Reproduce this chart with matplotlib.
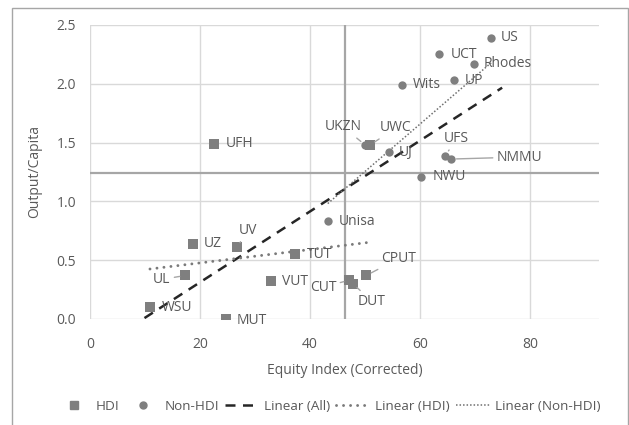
import numpy as np
import matplotlib
matplotlib.use("Agg")
import matplotlib.pyplot as plt
from matplotlib.lines import Line2D
from matplotlib.patches import Rectangle

plt.rcParams["font.family"] = ["Open Sans", "DejaVu Sans"]

# -------------------------------------------------------
# Data
# -------------------------------------------------------
hdi_names = ["UFH", "UZ", "UV", "UL", "WSU", "MUT", "VUT", "TUT", "CUT", "DUT", "CPUT", "UWC"]
hdi_x = [22.5, 18.7, 26.7, 17.3, 10.9, 24.7, 32.9, 37.3, 47.1, 47.8, 50.2, 50.9]
hdi_y = [1.49, 0.64, 0.61, 0.37, 0.10, 0.00, 0.32, 0.55, 0.33, 0.30, 0.37, 1.48]

non_names = ["US", "UCT", "Rhodes", "UP", "Wits", "UJ", "UFS", "NMMU", "NWU", "Unisa", "UKZN"]
non_x = [72.9, 63.5, 69.7, 66.1, 56.7, 54.4, 64.6, 65.6, 60.1, 43.2, 50.0]
non_y = [2.39, 2.25, 2.17, 2.03, 1.99, 1.42, 1.39, 1.36, 1.21, 0.83, 1.48]

# reference lines (median-type split)
x_ref = 46.4
y_ref = 1.245

# label offsets in pixels: (dx, dy, ha, leader)
label_style = {
    "US": (10, 0, "left", False), "UCT": (11, 0, "left", False),
    "Rhodes": (10, 0, "left", False), "UP": (11, 0, "left", False),
    "Wits": (11, 0, "left", False), "UJ": (9, 0, "left", False),
    "UFS": (11, 17, "center", True), "NMMU": (46, 2, "left", True),
    "NWU": (12, 0, "left", False), "Unisa": (11, 0, "left", False),
    "UKZN": (-22, 18, "center", True), "UWC": (10, 17, "left", True),
    "UFH": (12, 0, "left", False), "UZ": (11, 0, "left", False),
    "UV": (11, 17, "center", True), "UL": (-15, -4, "right", True),
    "WSU": (12, 0, "left", False), "MUT": (11, -1, "left", False),
    "VUT": (11, 0, "left", False), "TUT": (12, 0, "left", False),
    "CUT": (-13, -7, "right", True), "DUT": (19, -18, "center", True),
    "CPUT": (15, 17, "left", True),
}

text_col = "#595959"
mark_col = "#7f7f7f"

all_style = dict(color="#262626", linestyle=(0, (4, 3)), linewidth=1.8)
hdi_style = dict(color="#7a7a7a", linestyle=(0, (0.01, 2.4)), linewidth=2.1, dash_capstyle="round")
non_style = dict(color="#6f6f6f", linestyle=(0, (1, 1.3)), linewidth=1.1)

fig = plt.figure(figsize=(6.29, 4.25), dpi=100)
ax = fig.add_axes([90 / 629, 1 - 319 / 425, 509 / 629, 294 / 425])

# outer chart border
fig.patches.append(Rectangle((12 / 629, -0.05), 616 / 629, 1.05 - 8 / 425,
                             transform=fig.transFigure, fill=False,
                             edgecolor="#a6a6a6", linewidth=1))

ax.set_xlim(0, 92.5)
ax.set_ylim(0, 2.5)
ax.set_xticks([0, 20, 40, 60, 80])
ax.set_yticks([0, 0.5, 1.0, 1.5, 2.0, 2.5])
ax.set_yticklabels(["0.0", "0.5", "1.0", "1.5", "2.0", "2.5"])
ax.grid(True, color="#d9d9d9", linewidth=1)
ax.set_axisbelow(True)
for s in ax.spines.values():
    s.set_visible(False)
ax.tick_params(length=0, labelsize=10, labelcolor=text_col)
ax.tick_params(axis="x", pad=13)
ax.tick_params(axis="y", pad=10)

ax.axvline(x_ref, color="#a6a6a6", linewidth=1.6, zorder=1)
ax.axhline(y_ref, color="#a6a6a6", linewidth=1.6, zorder=1)

# trend lines (the overall one is extended a little, like the Excel forecast)
all_x = np.array(hdi_x + non_x)
all_y = np.array(hdi_y + non_y)
fits = [
    (all_x, all_y, 1.0, 2.0, all_style),
    (np.array(hdi_x), np.array(hdi_y), 0, 0, hdi_style),
    (np.array(non_x), np.array(non_y), 0, 0, non_style),
]
for fx, fy, back, fwd, style in fits:
    m, b = np.polyfit(fx, fy, 1)
    xs = np.array([fx.min() - back, fx.max() + fwd])
    ax.plot(xs, m * xs + b, zorder=2, **style)

ax.scatter(hdi_x, hdi_y, marker="s", s=48, color=mark_col, zorder=3, linewidths=0)
ax.scatter(non_x, non_y, marker="o", s=36, color=mark_col, zorder=3, linewidths=0)

for names, xs, ys in [(hdi_names, hdi_x, hdi_y), (non_names, non_x, non_y)]:
    for n, x, y in zip(names, xs, ys):
        dx, dy, ha, leader = label_style[n]
        kw = {}
        if leader:
            kw["arrowprops"] = dict(arrowstyle="-", color="#a6a6a6", lw=1,
                                    shrinkA=1, shrinkB=4)
        ax.annotate(n, (x, y), xytext=(dx, dy), textcoords="offset pixels",
                    ha=ha, va="center", fontsize=10, color=text_col, zorder=4, **kw)

ax.set_xlabel("Equity Index (Corrected)", fontsize=10, color=text_col, labelpad=8)
ax.set_ylabel("Output/Capita", fontsize=10, color=text_col, labelpad=10)

handles = [
    Line2D([], [], marker="s", linestyle="none", color=mark_col, markersize=6),
    Line2D([], [], marker="o", linestyle="none", color=mark_col, markersize=5),
    Line2D([], [], **all_style),
    Line2D([], [], **hdi_style),
    Line2D([], [], **non_style),
]
labels = ["HDI", "Non-HDI", "Linear (All)", "Linear (HDI)", "Linear (Non-HDI)"]
fig.legend(handles, labels, loc="center", bbox_to_anchor=(0.522, 1 - 406 / 425),
           ncol=5, frameon=False, fontsize=9.7, labelcolor=text_col,
           handlelength=2.6, columnspacing=0.45, handletextpad=0.3)

fig.savefig("out.png", dpi=100)
